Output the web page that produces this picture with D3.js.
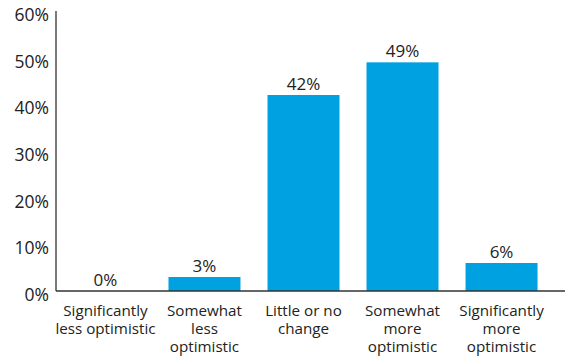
<!DOCTYPE html>
<html>
<head>
<meta charset="utf-8">
<script src="https://cdn.jsdelivr.net/npm/d3@7"></script>
<style>
  html, body { margin: 0; padding: 0; background: #fff; }
  svg { display: block; font-family: "Open Sans", sans-serif; }
</style>
</head>
<body>
<svg id="chart" width="572" height="358"></svg>
<script>
const categories = [
  ["Significantly", "less optimistic"],
  ["Somewhat", "less", "optimistic"],
  ["Little or no", "change"],
  ["Somewhat", "more", "optimistic"],
  ["Significantly", "more", "optimistic"]
];
const values = [0, 3, 42, 49, 6];
const yTicks = [0, 10, 20, 30, 40, 50, 60];

(function () {
  const svg = d3.select("#chart");
  const m = { left: 56, right: 551, axisEnd: 565, top: 11, bottom: 291 };
  const textColor = "#222";

  const x = d3.scaleBand()
    .domain(d3.range(categories.length))
    .range([m.left, m.right])
    .paddingInner(0.273)
    .paddingOuter(0.136);

  const y = d3.scaleLinear().domain([0, 60]).range([m.bottom, m.top]);

  // bars
  svg.append("g").selectAll("rect")
    .data(values)
    .join("rect")
    .attr("x", (d, i) => x(i))
    .attr("width", x.bandwidth())
    .attr("y", d => y(d))
    .attr("height", d => y(0) - y(d))
    .attr("fill", "#00a1e0");

  // value labels
  svg.append("g").selectAll("text")
    .data(values)
    .join("text")
    .attr("x", (d, i) => x(i) + x.bandwidth() / 2)
    .attr("y", d => y(d) - 5)
    .attr("text-anchor", "middle")
    .attr("font-size", 17)
    .attr("fill", textColor)
    .text(d => d + "%");

  // y axis
  const yAxis = d3.axisLeft(y).tickValues(yTicks).tickSize(0).tickPadding(7)
    .tickFormat(d => d + "%");
  const gy = svg.append("g").attr("transform", `translate(${m.left},0)`).call(yAxis);
  gy.select(".domain").remove();
  gy.selectAll("text")
    .attr("font-size", 17.5)
    .attr("dy", 9.5)
    .attr("fill", textColor)
    .attr("font-family", "Open Sans, sans-serif");

  svg.append("line")
    .attr("x1", m.left).attr("x2", m.left)
    .attr("y1", m.top).attr("y2", m.bottom)
    .attr("stroke", "#333").attr("stroke-width", 1.3);

  svg.append("line")
    .attr("x1", m.left).attr("x2", m.axisEnd)
    .attr("y1", m.bottom).attr("y2", m.bottom)
    .attr("stroke", "#333").attr("stroke-width", 1.3);

  // category labels
  const cat = svg.append("g").selectAll("text")
    .data(categories)
    .join("text")
    .attr("text-anchor", "middle")
    .attr("font-size", 15.2)
    .attr("fill", textColor)
    .attr("transform", (d, i) => `translate(${x(i) + x.bandwidth() / 2},${m.bottom + 25})`);
  cat.selectAll("tspan")
    .data(d => d)
    .join("tspan")
    .attr("x", 0)
    .attr("dy", (d, j) => j === 0 ? 0 : 18)
    .text(d => d);
})();
</script>
</body>
</html>
